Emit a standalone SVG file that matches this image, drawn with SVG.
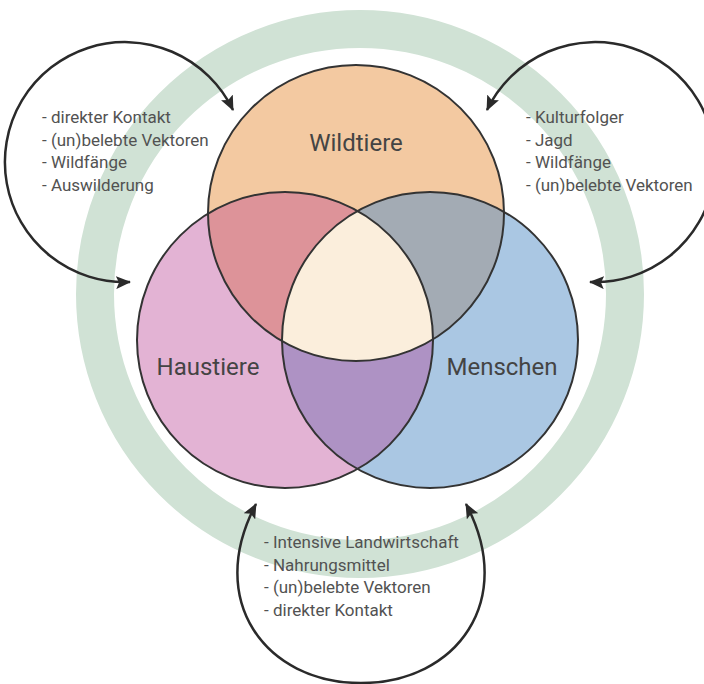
<svg xmlns="http://www.w3.org/2000/svg" width="704" height="684" viewBox="0 0 704 684">
  <style>
    .ring { fill: none; stroke: #D0E2D5; stroke-width: 38; }
    .outline { fill: none; stroke: #333333; stroke-width: 2; }
    .title { font-family: Roboto, "Liberation Sans", sans-serif; font-size: 24px; fill: #444444; text-anchor: middle; }
    .list { font-family: Roboto, "Liberation Sans", sans-serif; font-size: 17px; fill: #525252; }
    .conn { fill: none; stroke: #2A2A2A; stroke-width: 2.5; marker-start: url(#head); marker-end: url(#head); }
  </style>
  <defs>
    <marker id="head" viewBox="0 0 15 13" refX="14" refY="6.5" markerWidth="15" markerHeight="13" markerUnits="userSpaceOnUse" orient="auto-start-reverse">
      <path d="M0,0 L15,6.5 L0,13 L3,6.5 z" fill="#2A2A2A"/>
    </marker>
    <clipPath id="clipW"><circle cx="356" cy="213" r="148"/></clipPath>
    <clipPath id="clipH"><circle cx="285" cy="340" r="148"/></clipPath>
    <clipPath id="clipWH" clip-path="url(#clipW)"><circle cx="285" cy="340" r="148"/></clipPath>
  </defs>

  <!-- background ring -->
  <circle class="ring" cx="360" cy="294" r="265"/>

  <!-- base circle fills -->
  <g id="node-wildtiere">
    <circle cx="356" cy="213" r="148" fill="#F3C9A1"/>
  </g>
  <g id="node-haustiere">
    <circle cx="285" cy="340" r="148" fill="#E3B3D4"/>
  </g>
  <g id="node-menschen">
    <circle cx="430" cy="340" r="148" fill="#AAC7E3"/>
  </g>

  <!-- overlap regions -->
  <g id="overlaps">
    <circle cx="285" cy="340" r="148" fill="#DD9399" clip-path="url(#clipW)"/>
    <circle cx="430" cy="340" r="148" fill="#A3ABB4" clip-path="url(#clipW)"/>
    <circle cx="430" cy="340" r="148" fill="#AE92C4" clip-path="url(#clipH)"/>
    <circle cx="430" cy="340" r="148" fill="#FBEEDC" clip-path="url(#clipWH)"/>
  </g>

  <!-- circle outlines -->
  <g id="outlines">
    <circle class="outline" cx="356" cy="213" r="148"/>
    <circle class="outline" cx="285" cy="340" r="148"/>
    <circle class="outline" cx="430" cy="340" r="148"/>
  </g>

  <!-- circle titles -->
  <g id="titles">
    <text class="title" x="356" y="151">Wildtiere</text>
    <text class="title" x="208" y="375">Haustiere</text>
    <text class="title" x="502" y="375">Menschen</text>
  </g>

  <!-- two-way transmission arrows -->
  <g id="connectors">
    <path class="conn" d="M130,282 A120,120 0 1 1 233,110"/>
    <path class="conn" d="M590,282 A120,120 0 1 0 487,110"/>
    <path class="conn" d="M256,504 C205,600 265,683 361,683 C457,683 517,600 466,504"/>
  </g>

  <!-- transmission routes -->
  <g id="list-wild-haus">
    <text class="list" x="42" y="123">- direkter Kontakt</text>
    <text class="list" x="42" y="145.5">- (un)belebte Vektoren</text>
    <text class="list" x="42" y="168">- Wildfänge</text>
    <text class="list" x="42" y="190.5">- Auswilderung</text>
  </g>
  <g id="list-wild-mensch">
    <text class="list" x="526" y="123">- Kulturfolger</text>
    <text class="list" x="526" y="145.5">- Jagd</text>
    <text class="list" x="526" y="168">- Wildfänge</text>
    <text class="list" x="526" y="190.5">- (un)belebte Vektoren</text>
  </g>
  <g id="list-haus-mensch">
    <text class="list" x="264" y="548">- Intensive Landwirtschaft</text>
    <text class="list" x="264" y="570.5">- Nahrungsmittel</text>
    <text class="list" x="264" y="593">- (un)belebte Vektoren</text>
    <text class="list" x="264" y="615.5">- direkter Kontakt</text>
  </g>
</svg>
